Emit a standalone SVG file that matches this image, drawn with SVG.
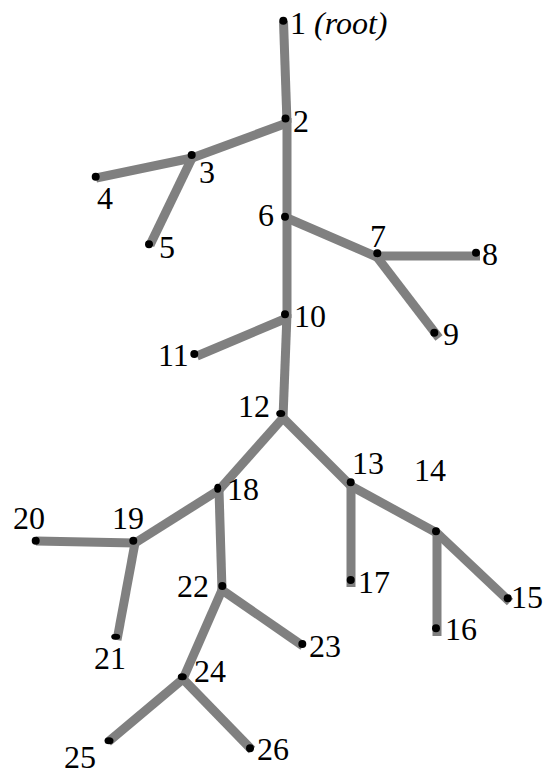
<svg xmlns="http://www.w3.org/2000/svg" width="548" height="775" viewBox="0 0 548 775">
<style>
.e{stroke:#808080;stroke-width:9;fill:none;stroke-linecap:butt;stroke-linejoin:miter}
.d{fill:#000}
.t{font-family:"Liberation Serif","DejaVu Serif",Tinos,"Nimbus Roman","Nimbus Roman No9 L",FreeSerif,"Times New Roman",Times,serif;font-size:32px;fill:#000}
</style>
<rect width="548" height="775" fill="#fff"/>
<g id="connectors">
<path class="e" d="M283.5,21 L287,123"/>
<path class="e" d="M287,118 L287,220"/>
<path class="e" d="M287,216 L287,318"/>
<path class="e" d="M287,314 L283,418"/>
<path class="e" d="M287,123 L192,158"/>
<path class="e" d="M192,158 L96,178"/>
<path class="e" d="M192,158 L150,245"/>
<path class="e" d="M287,218 L377,257"/>
<path class="e" d="M377,256 L480,256"/>
<path class="e" d="M377,257 L439,338"/>
<path class="e" d="M287,318 L197,356"/>
<path class="e" d="M283,418 L351,486"/>
<path class="e" d="M351,486 L351,587"/>
<path class="e" d="M351,486 L437,533"/>
<path class="e" d="M437,533 L437,636"/>
<path class="e" d="M437,533 L510,602"/>
<path class="e" d="M283,418 L219,490"/>
<path class="e" d="M219,490 L135,543"/>
<path class="e" d="M135,543 L36,541"/>
<path class="e" d="M135,543 L117,640"/>
<path class="e" d="M219,490 L222,590"/>
<path class="e" d="M222,590 L303,646"/>
<path class="e" d="M222,590 L183,679"/>
<path class="e" d="M183,679 L108,742"/>
<path class="e" d="M183,679 L252,750"/>
</g>
<g id="n1"><circle class="d" cx="283.3" cy="20.7" r="4"/><text class="t" x="290" y="34">1 <tspan font-style="italic">(root)</tspan></text></g>
<g id="n2"><circle class="d" cx="285.5" cy="118.5" r="4"/><text class="t" x="293" y="132">2</text></g>
<g id="n3"><circle class="d" cx="191.7" cy="155" r="4"/><text class="t" x="199" y="183">3</text></g>
<g id="n4"><circle class="d" cx="95.7" cy="176.7" r="4"/><text class="t" x="97" y="209">4</text></g>
<g id="n5"><circle class="d" cx="149" cy="244.3" r="4"/><text class="t" x="159" y="258">5</text></g>
<g id="n6"><circle class="d" cx="285" cy="216.7" r="4"/><text class="t" x="258" y="226">6</text></g>
<g id="n7"><circle class="d" cx="377.3" cy="253.3" r="4"/><text class="t" x="370" y="247">7</text></g>
<g id="n8"><circle class="d" cx="476" cy="252.7" r="4"/><text class="t" x="482" y="265">8</text></g>
<g id="n9"><circle class="d" cx="434.3" cy="332.7" r="4"/><text class="t" x="443" y="345">9</text></g>
<g id="n10"><circle class="d" cx="285" cy="314.3" r="4"/><text class="t" x="294" y="327">10</text></g>
<g id="n11"><circle class="d" cx="194.3" cy="354" r="4"/><text class="t" x="158" y="366">11</text></g>
<g id="n12"><ellipse class="d" cx="280.7" cy="413.5" rx="4.5" ry="3.5"/><text class="t" x="238" y="417">12</text></g>
<g id="n13"><circle class="d" cx="350.7" cy="482.3" r="4"/><text class="t" x="352" y="474">13</text></g>
<g id="n14"><circle class="d" cx="436" cy="531.3" r="4"/><text class="t" x="414" y="481">14</text></g>
<g id="n15"><circle class="d" cx="507.7" cy="598.3" r="4"/><text class="t" x="511" y="608">15</text></g>
<g id="n16"><circle class="d" cx="436" cy="628.3" r="4"/><text class="t" x="445" y="640">16</text></g>
<g id="n17"><circle class="d" cx="350.7" cy="580" r="4"/><text class="t" x="358" y="593">17</text></g>
<g id="n18"><ellipse class="d" cx="217.7" cy="488.3" rx="3.5" ry="4.5"/><text class="t" x="227" y="500">18</text></g>
<g id="n19"><circle class="d" cx="133.3" cy="540.7" r="4"/><text class="t" x="112" y="529">19</text></g>
<g id="n20"><circle class="d" cx="35.7" cy="540.7" r="4"/><text class="t" x="13" y="529">20</text></g>
<g id="n21"><ellipse class="d" cx="115.7" cy="636.7" rx="4.5" ry="3"/><text class="t" x="94" y="669">21</text></g>
<g id="n22"><circle class="d" cx="222.3" cy="586" r="4"/><text class="t" x="177" y="597">22</text></g>
<g id="n23"><circle class="d" cx="302.3" cy="644" r="4"/><text class="t" x="309" y="657">23</text></g>
<g id="n24"><ellipse class="d" cx="182.3" cy="676.7" rx="4.5" ry="3.5"/><text class="t" x="194" y="682">24</text></g>
<g id="n25"><ellipse class="d" cx="109" cy="740.7" rx="4.5" ry="3.5"/><text class="t" x="64" y="768">25</text></g>
<g id="n26"><circle class="d" cx="250" cy="748.3" r="4"/><text class="t" x="257" y="760">26</text></g>
</svg>
